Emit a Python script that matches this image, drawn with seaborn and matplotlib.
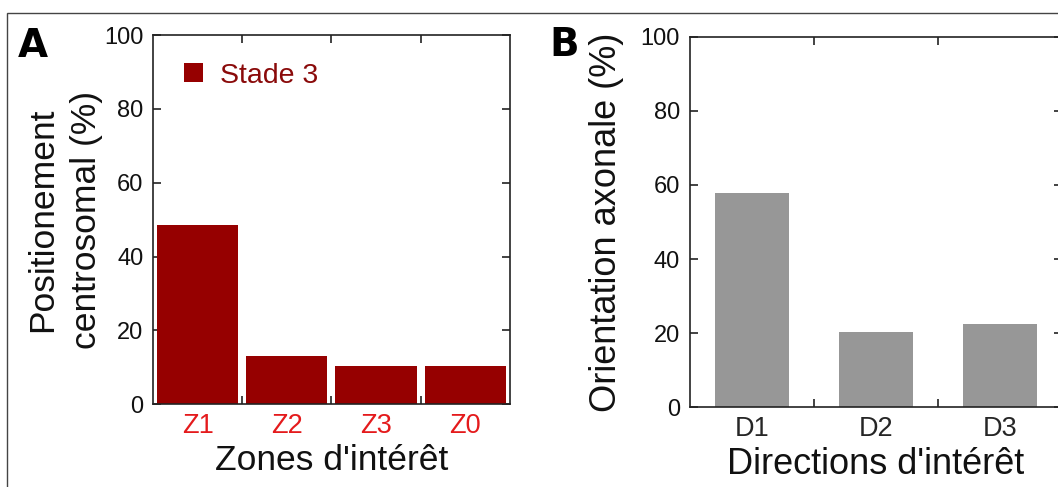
#!/usr/bin/env python
# -*- coding: utf-8 -*-
"""Two bar panels: centrosome position by zone, axon orientation by direction."""
import matplotlib
matplotlib.use('Agg')
import matplotlib.pyplot as plt
from matplotlib.patches import Patch, Rectangle
import seaborn as sns
import pandas as pd

sns.set_theme(style='white')
plt.rcParams['font.family'] = ['Liberation Sans', 'DejaVu Sans']

# panel A data
ZONES = ['Z1', 'Z2', 'Z3', 'Z0']
CENTRO_PCT = [48.6, 13.1, 10.4, 10.4]
STAGE_LABEL = 'Stade 3'

# panel B data
DIRECTIONS = ['D1', 'D2', 'D3']
AXON_PCT = [57.7, 20.2, 22.4]

Y_TICKS = [0, 20, 40, 60, 80, 100]

COL_RED = '#960000'
COL_LEG = '#8a0a0a'
COL_TICK_RED = '#e41a1c'
COL_GRAY = '#979797'
COL_SPINE = '#222222'


def style_axes(axis, ncat):
    """Inward ticks on all sides, x ticks on category boundaries."""
    axis.set_ylim(0, 100)
    axis.set_yticks(Y_TICKS)
    axis.set_xlim(-0.5, ncat - 0.5)
    axis.set_xticks(range(ncat))
    axis.set_xticks([i + 0.5 for i in range(ncat - 1)], minor=True)
    axis.tick_params(axis='x', which='major', length=0, pad=6, labelsize=19.5)
    axis.tick_params(axis='x', which='minor', direction='in', length=6,
                     width=1.2, top=True, bottom=True, color=COL_SPINE)
    axis.tick_params(axis='y', which='major', direction='in', length=6,
                     width=1.2, left=True, right=True, labelsize=17,
                     pad=7, color=COL_SPINE, labelcolor='#111111')
    for spine in axis.spines.values():
        spine.set_visible(True)
        spine.set_color(COL_SPINE)
        spine.set_linewidth(1.2)
    axis.grid(False)


fig = plt.figure(figsize=(10.58, 4.87), dpi=100)

# outer frame of the figure
fig.add_artist(Rectangle((7 / 1058, -0.1), 1.1, 1.1 - 13 / 487,
                         transform=fig.transFigure, fill=False,
                         edgecolor='#444444', lw=1.0))

ax_a = fig.add_axes([0.1446, 0.1698, 0.3374, 0.7583])
ax_b = fig.add_axes([0.6519, 0.1637, 0.3516, 0.7609])

df_a = pd.DataFrame({'zone': ZONES, 'pct': CENTRO_PCT})
df_b = pd.DataFrame({'direction': DIRECTIONS, 'pct': AXON_PCT})

sns.barplot(data=df_a, x='zone', y='pct', color=COL_RED, saturation=1,
            width=0.91, linewidth=0, ax=ax_a)
sns.barplot(data=df_b, x='direction', y='pct', color=COL_GRAY, saturation=1,
            width=0.6, linewidth=0, ax=ax_b)

style_axes(ax_a, len(ZONES))
style_axes(ax_b, len(DIRECTIONS))

for lab in ax_a.get_xticklabels():
    lab.set_color(COL_TICK_RED)

ax_a.set_xlabel("Zones d'intérêt", fontsize=25.5, labelpad=4, color='#111111')
ax_a.set_ylabel('Positionement\ncentrosomal (%)', fontsize=25.5, labelpad=1,
                color='#111111', linespacing=1.4)
ax_b.set_xlabel("Directions d'intérêt", fontsize=26, labelpad=4,
                color='#111111')
ax_b.set_ylabel('Orientation axonale (%)', fontsize=26, labelpad=12,
                color='#111111')

ax_a.legend(handles=[Patch(facecolor=COL_RED, edgecolor='none')],
            labels=[STAGE_LABEL], loc='upper left',
            bbox_to_anchor=(0.088, 0.925), frameon=False, fontsize=20.5,
            handlelength=0.65, handleheight=0.65, handletextpad=0.6,
            borderpad=0, borderaxespad=0, labelcolor=COL_LEG)

fig.text(18 / 1058, 1 - 57 / 487, 'A', fontsize=28, fontweight='bold',
         family='DejaVu Sans', color='black')
fig.text(549 / 1058, 1 - 56 / 487, 'B', fontsize=28, fontweight='bold',
         family='DejaVu Sans', color='black')

fig.savefig('out.png', dpi=100)
